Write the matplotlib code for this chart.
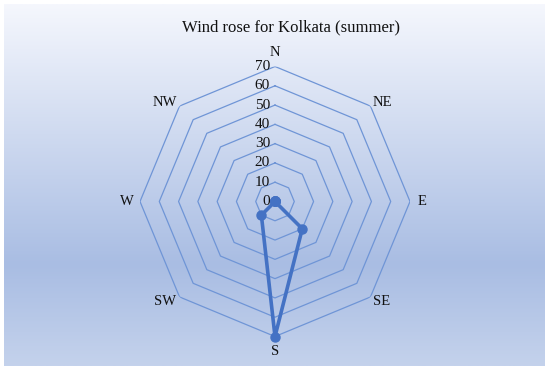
import numpy as np
import matplotlib
matplotlib.use("Agg")
import matplotlib.pyplot as plt
from matplotlib.colors import LinearSegmentedColormap

# wind frequency (%) per direction, clockwise from north
directions = ["N", "NE", "E", "SE", "S", "SW", "W", "NW"]
values = [0, 0, 0, 20, 70, 10, 0, 0]
ring_values = [0, 10, 20, 30, 40, 50, 60, 70]
title = "Wind rose for Kolkata (summer)"

plt.rcParams["font.family"] = ["Liberation Serif", "DejaVu Serif"]

fig = plt.figure(figsize=(5.5, 3.73), dpi=100)
fig.patch.set_facecolor("white")

# gradient background of the chart area
bg = fig.add_axes([4 / 550, 7 / 373, 541 / 550, 362 / 373])
cmap = LinearSegmentedColormap.from_list(
    "bg", [(0.0, "#f5f7fd"), (0.72, "#a9bde3"), (1.0, "#c4d2ec")])
grad = np.linspace(0, 1, 256).reshape(-1, 1)
bg.imshow(grad, aspect="auto", cmap=cmap, extent=[0, 1, 1, 0])
bg.set_axis_off()
bg.text(0.531, 0.936, title, transform=bg.transAxes, ha="center", va="center",
        fontsize=12, color="#111111")

ax = fig.add_axes([140 / 550, 36.5 / 373, 270 / 550, 270 / 373], projection="polar")
ax.set_facecolor("none")
ax.set_theta_zero_location("N")
ax.set_theta_direction(-1)
ax.set_ylim(0, ring_values[-1])
ax.spines["polar"].set_visible(False)
ax.grid(False)
ax.set_xticks([])
ax.set_yticks([])

angles = np.deg2rad(np.arange(len(directions)) * 360 / len(directions))
ring_angles = np.append(angles, angles[0])

# octagonal grid rings
for rv in ring_values[1:]:
    ax.plot(ring_angles, [rv] * len(ring_angles), color="#6f95d6", lw=0.9,
            zorder=1)

# radial scale labels along the north axis
for rv in ring_values:
    ax.annotate(str(rv), (0, rv), xytext=(-5, 0), textcoords="offset pixels",
                ha="right", va="center", fontsize=11, color="#111111")

# direction labels
label_offsets = {"N": (0, 14), "NE": (12, 4), "E": (12, 0), "SE": (11, -5),
                 "S": (0, -15), "SW": (-15, -5), "W": (-13, 0), "NW": (-15, 4)}
for ang, name in zip(angles, directions):
    ax.annotate(name, (ang, ring_values[-1]), xytext=label_offsets[name],
                textcoords="offset pixels", ha="center", va="center",
                fontsize=10.5, color="#111111")

# data polygon
ax.plot(np.append(angles, angles[0]), values + values[:1], color="#4472c4",
        lw=2.6, marker="o", markersize=6.5, zorder=3, clip_on=False)

fig.savefig("out.png", dpi=100, facecolor=fig.get_facecolor())
